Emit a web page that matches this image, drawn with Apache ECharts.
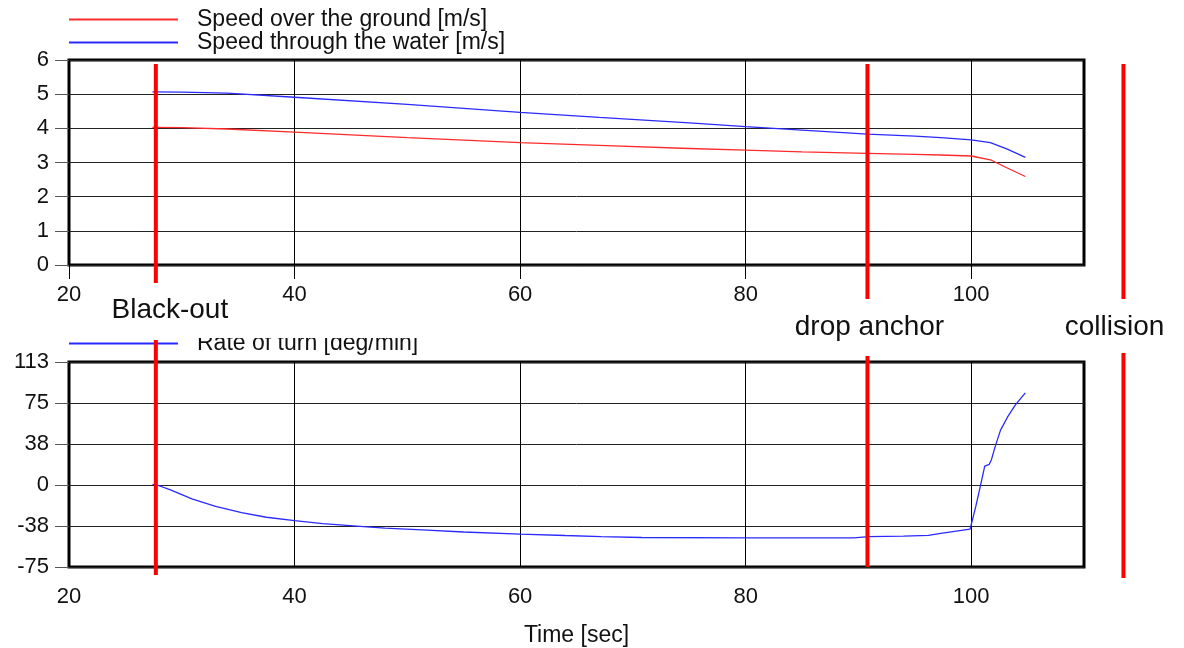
<!DOCTYPE html>
<html>
<head>
<meta charset="utf-8">
<script src="https://cdn.jsdelivr.net/npm/echarts@6.0.0/dist/echarts.min.js"></script>
<style>
  html, body { margin: 0; padding: 0; background: #fff; }
  #chart { width: 1184px; height: 648px; }
</style>
</head>
<body>
<div id="chart"></div>
<script>
// time axis values (sec)
const timeTop = [27.4, 30, 34, 40, 50, 60, 67, 75, 80, 85, 90.8, 95, 97.3, 100, 101.7, 103.2, 104.8]
const speedWater = [5.07, 5.06, 5.03, 4.91, 4.70, 4.47, 4.32, 4.16, 4.05, 3.95, 3.83, 3.77, 3.73, 3.66, 3.58, 3.39, 3.15]
const speedGround = [4.03, 4.02, 3.98, 3.89, 3.73, 3.58, 3.50, 3.41, 3.36, 3.31, 3.27, 3.24, 3.22, 3.19, 3.08, 2.84, 2.59]

const timeTurn = [27.4, 27.8, 29, 30.9, 33, 35.3, 37.5, 40, 42.5, 45.5, 48, 51.3, 55, 60, 64, 67.2, 70.8, 80, 89.6, 90.9, 94, 96.2, 97.3, 99.9, 100.4, 100.8, 101.2, 101.6, 101.8, 102.1, 102.6, 103.2, 103.9, 104.8]
const rateOfTurn = [0.5, 0, -4.5, -12.7, -19.5, -25.2, -29.5, -32.5, -35.3, -37.6, -39.5, -41, -43, -44.9, -46.2, -47.2, -48, -48.3, -48.3, -47.3, -46.8, -46, -44.3, -40.4, -19.8, -1.5, 17.3, 18.9, 23.4, 34.4, 50.2, 61.8, 73, 84.2]

const xTicks = [20, 40, 60, 80, 100]
const seriesNames = ['Speed over the ground [m/s]', 'Speed through the water [m/s]', 'Rate of turn [deg/min]']

const eventNames = ['Black-out', 'drop anchor', 'collision']
const eventTimes = [27.7, 90.8, 113.5]

// layout of the event markers (pixels)
const eventLabelDx = [14, 2, -9]
const eventLabelY = [310, 327, 327]
const eventTopSeg = [[64, 283], [64, 299], [64, 299]]
const eventBottomSeg = [[340, 575], [356, 567], [353, 578]]

const FONT = '"Liberation Sans", Arial, sans-serif'
const RED = '#ff2a2a'
const BLUE = '#2a2aff'

const chart = echarts.init(document.getElementById('chart'))

function xAxisCfg(gridIndex, margin, withName) {
  return {
    type: 'value',
    gridIndex,
    min: 20,
    max: 110,
    interval: 20,
    axisLine: { show: false },
    axisTick: { show: true, length: 14, customValues: xTicks, lineStyle: { color: '#000', width: 1 } },
    axisLabel: { customValues: xTicks, color: '#111', fontSize: 22, fontFamily: FONT, margin },
    splitLine: { show: true, lineStyle: { color: '#000', width: 1 } },
    name: withName ? 'Time [sec]' : '',
    nameLocation: 'middle',
    nameGap: 57,
    nameTextStyle: { color: '#111', fontSize: 23, fontFamily: FONT },
  }
}

function yAxisCfg(gridIndex, min, max, interval, formatter) {
  return {
    type: 'value',
    gridIndex,
    min, max, interval,
    axisLine: { show: false },
    axisTick: { show: true, length: 14, lineStyle: { color: '#555', width: 1 } },
    axisLabel: { color: '#111', fontSize: 22, fontFamily: FONT, margin: 20, formatter },
    splitLine: { show: true, lineStyle: { color: '#222', width: 1 } },
  }
}

function roundLabel(v) {
  const r = Math.round(Math.abs(v))
  return v < 0 ? '-' + r : String(r)
}

const legendText = { color: '#111', fontSize: 23, fontFamily: FONT, lineHeight: 23, padding: [0, 0, 0, 14] }

chart.setOption({
  animation: false,
  backgroundColor: '#fff',
  grid: [
    { left: 69, right: 100, top: 60, height: 205, outerBoundsMode: 'none', show: true, borderColor: '#000', borderWidth: 3, backgroundColor: 'transparent' },
    { left: 69, right: 100, top: 362, height: 205, outerBoundsMode: 'none', show: true, borderColor: '#000', borderWidth: 3, backgroundColor: 'transparent' },
  ],
  legend: [
    {
      data: [seriesNames[0], seriesNames[1]],
      orient: 'vertical',
      left: 69, top: 8,
      padding: 0, itemGap: 0,
      icon: 'rect', itemWidth: 109, itemHeight: 2,
      textStyle: legendText,
      selectedMode: false,
    },
    {
      data: [seriesNames[2]],
      orient: 'vertical',
      left: 69, top: 332,
      padding: 0,
      icon: 'rect', itemWidth: 109, itemHeight: 2,
      textStyle: legendText,
      selectedMode: false,
    },
  ],
  xAxis: [xAxisCfg(0, 19, false), xAxisCfg(1, 19, true)],
  yAxis: [
    yAxisCfg(0, 0, 6, 1, v => String(v)),
    yAxisCfg(1, -75, 112.5, 37.5, roundLabel),
  ],
  series: [
    {
      name: seriesNames[0], type: 'line', xAxisIndex: 0, yAxisIndex: 0,
      data: timeTop.map((t, i) => [t, speedGround[i]]),
      showSymbol: false, color: RED, lineStyle: { color: RED, width: 1.3 }, z: 3,
    },
    {
      name: seriesNames[1], type: 'line', xAxisIndex: 0, yAxisIndex: 0,
      data: timeTop.map((t, i) => [t, speedWater[i]]),
      showSymbol: false, color: BLUE, lineStyle: { color: BLUE, width: 1.3 }, z: 3,
    },
    {
      name: seriesNames[2], type: 'line', xAxisIndex: 1, yAxisIndex: 1,
      data: timeTurn.map((t, i) => [t, rateOfTurn[i]]),
      showSymbol: false, color: BLUE, lineStyle: { color: BLUE, width: 1.3 }, z: 3,
    },
  ],
})

// event markers: x from the time axis, spanning both panels
const graphics = [
  // the label band between the panels hides the top of the lower legend text
  { type: 'rect', shape: { x: 185, y: 322, width: 520, height: 16 }, style: { fill: '#fff' }, z: 50 },
]
eventTimes.forEach((t, i) => {
  const x = chart.convertToPixel({ xAxisIndex: 0 }, t)
  graphics.push({ type: 'line', shape: { x1: x, y1: eventTopSeg[i][0], x2: x, y2: eventTopSeg[i][1] }, style: { stroke: '#ff0000', lineWidth: 4 }, z: 60 })
  graphics.push({ type: 'line', shape: { x1: x, y1: eventBottomSeg[i][0], x2: x, y2: eventBottomSeg[i][1] }, style: { stroke: '#ff0000', lineWidth: 4 }, z: 60 })
  graphics.push({
    type: 'text', x: x + eventLabelDx[i], y: eventLabelY[i], z: 70,
    style: { text: eventNames[i], fill: '#111', font: '28px ' + FONT, textAlign: 'center', textVerticalAlign: 'middle' },
  })
})
chart.setOption({ graphic: graphics })
</script>
</body>
</html>
